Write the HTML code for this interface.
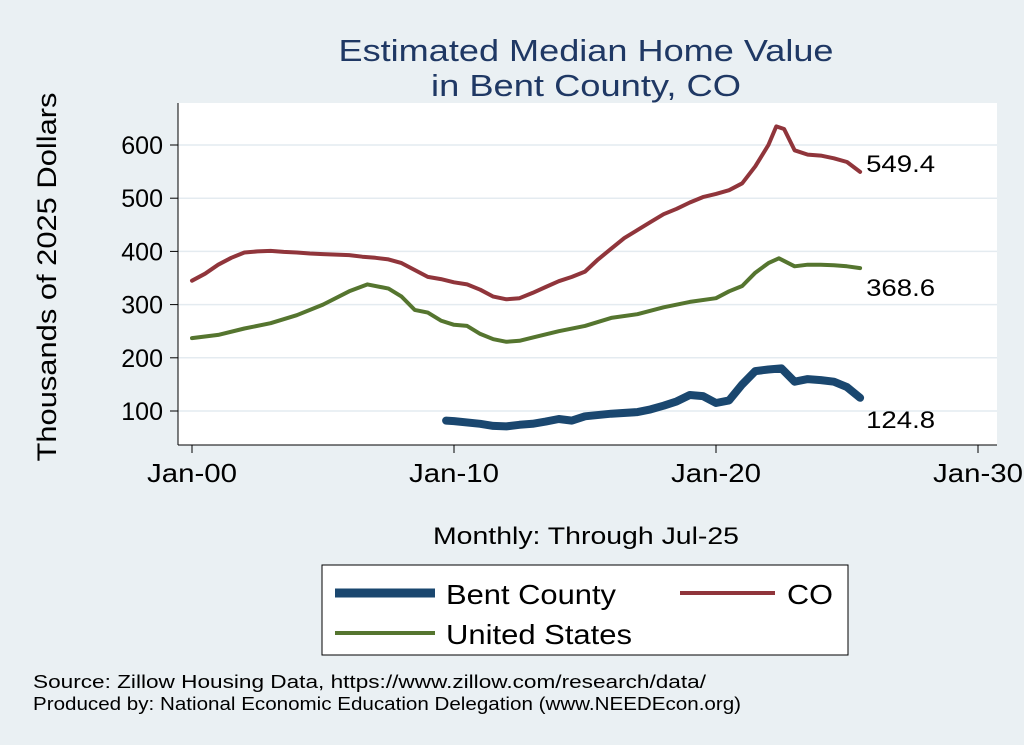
<!DOCTYPE html>
<html><head><meta charset="utf-8"><style>
body{margin:0;background:#eaf0f3;}
svg{display:block;font-family:"Liberation Sans",sans-serif;}
</style></head><body>
<svg id="c" width="1024" height="745">
<rect width="1024" height="745" fill="#eaf0f3"/>
<text x="586" y="61" font-size="31" fill="#1f3864" text-anchor="middle" textLength="495" lengthAdjust="spacingAndGlyphs">Estimated Median Home Value</text>
<text x="586" y="96" font-size="31" fill="#1f3864" text-anchor="middle" textLength="310" lengthAdjust="spacingAndGlyphs">in Bent County, CO</text>
<rect x="178" y="103" width="819" height="342" fill="#fff"/>
<g id="grid"></g><g id="axes"></g><g id="series"></g>
<text transform="translate(56,277) rotate(-90)" font-size="27" text-anchor="middle" textLength="369" lengthAdjust="spacingAndGlyphs">Thousands of 2025 Dollars</text>
<text x="586" y="544" font-size="24" text-anchor="middle" textLength="306" lengthAdjust="spacingAndGlyphs">Monthly: Through Jul-25</text>
<g>
<rect x="322" y="565" width="526" height="90" fill="#fff" stroke="#000" stroke-width="1"/>
<line x1="335" y1="593" x2="435" y2="593" stroke="#1a476f" stroke-width="9"/>
<text x="446" y="604" font-size="28" textLength="170" lengthAdjust="spacingAndGlyphs">Bent County</text>
<line x1="680" y1="593" x2="775" y2="593" stroke="#90353b" stroke-width="4"/>
<text x="787" y="604" font-size="28" textLength="46" lengthAdjust="spacingAndGlyphs">CO</text>
<line x1="335" y1="633" x2="435" y2="633" stroke="#55752f" stroke-width="4"/>
<text x="446" y="644" font-size="28" textLength="186" lengthAdjust="spacingAndGlyphs">United States</text>
</g>
<text x="33" y="688" font-size="18" textLength="673" lengthAdjust="spacingAndGlyphs">Source: Zillow Housing Data, https://www.zillow.com/research/data/</text>
<text x="33" y="710" font-size="18" textLength="708" lengthAdjust="spacingAndGlyphs">Produced by: National Economic Education Delegation (www.NEEDEcon.org)</text>
</svg>
<script>
const yTicks=[100,200,300,400,500,600];
const xTickYears=[2000,2010,2020,2030];
const xTickLabels=["Jan-00","Jan-10","Jan-20","Jan-30"];
const coYears=[2000,2000.5,2001,2001.5,2002,2002.5,2003,2003.5,2004,2004.5,2005,2005.5,2006,2006.5,2007,2007.5,2008,2008.5,2009,2009.5,2010,2010.5,2011,2011.5,2012,2012.5,2013,2013.5,2014,2014.5,2015,2015.5,2016,2016.5,2017,2017.5,2018,2018.5,2019,2019.5,2020,2020.5,2021,2021.5,2022,2022.3,2022.6,2023,2023.5,2024,2024.5,2025,2025.5];
const coValues=[345,358,375,388,398,400,401,399,398,396,395,394,393,390,388,385,378,365,352,348,342,338,328,315,310,312,322,333,344,352,362,385,405,425,440,455,470,480,492,502,508,515,528,560,600,635,630,590,582,580,575,568,549.4];
const usYears=[2000,2001,2002,2003,2004,2005,2006,2006.7,2007.5,2008,2008.5,2009,2009.5,2010,2010.5,2011,2011.5,2012,2012.5,2013,2014,2015,2016,2017,2018,2019,2020,2020.5,2021,2021.5,2022,2022.4,2023,2023.5,2024,2024.5,2025,2025.5];
const usValues=[237,243,255,265,280,300,325,338,330,315,290,285,270,262,260,245,235,230,232,238,250,260,275,282,295,305,312,325,335,360,378,387,372,375,375,374,372,368.6];
const bentYears=[2009.7,2010,2011,2011.5,2012,2012.5,2013,2013.5,2014,2014.5,2015,2016,2017,2017.5,2018,2018.5,2019,2019.5,2020,2020.5,2021,2021.5,2022,2022.5,2023,2023.5,2024,2024.5,2025,2025.5];
const bentValues=[82,81,76,72,71,74,76,80,85,82,90,95,98,103,110,118,130,128,115,120,150,175,178,180,155,160,158,155,145,124.8];
const NS="http://www.w3.org/2000/svg";
const X=yr=>192+(yr-2000)*26.2;
const Y=v=>411-(v-100)*0.532;
function mk(tag,attrs,parent,txt){const e=document.createElementNS(NS,tag);for(const k in attrs)e.setAttribute(k,attrs[k]);if(txt!==undefined)e.textContent=txt;parent.appendChild(e);return e;}
const grid=document.getElementById('grid'),axes=document.getElementById('axes'),ser=document.getElementById('series');
yTicks.forEach(t=>{
 const g=mk('line',{x1:178,x2:997,y1:Y(t),y2:Y(t),stroke:'#e4ebf0','stroke-width':1.5},grid);
 
 
 const tk=mk('line',{x1:170,x2:178,y1:Y(t),y2:Y(t),stroke:'#000'},axes);
 
 
 const l=mk('text',{x:163,y:Y(t)+9,'font-size':25,'text-anchor':'end'},axes,String(t));
 
 
});
mk('line',{x1:178,x2:178,y1:103,y2:445,stroke:'#000'},axes);
mk('line',{x1:178,x2:997,y1:445,y2:445,stroke:'#000'},axes);
xTickYears.forEach((yr,i)=>{
 const tk=mk('line',{x1:X(yr),x2:X(yr),y1:445,y2:453,stroke:'#000'},axes);
 
 
 const l=mk('text',{x:X(yr),y:482,'font-size':26,'text-anchor':'middle',textLength:90,lengthAdjust:'spacingAndGlyphs'},axes,xTickLabels[i]);
 
 
});
const offs={'co-line':-8,'us-line':20,'bent-county-line':22};
function line(xs,vs,color,w,name){
 const d=xs.map((x,i)=>(i?'L':'M')+X(x).toFixed(1)+','+Y(vs[i]).toFixed(1)).join('');
 const p=mk('path',{d:d,fill:'none',stroke:color,'stroke-width':w,'stroke-linejoin':'round','stroke-linecap':'round'},ser);
 
 
 const last=vs[vs.length-1];
 const lb=mk('text',{x:X(xs[xs.length-1])+6,y:Y(last)+8+offs[name],'font-size':24,textLength:69,lengthAdjust:'spacingAndGlyphs'},ser,last.toFixed(1));
 
 
}
line(usYears,usValues,'#55752f',4,'us-line');
line(coYears,coValues,'#90353b',4,'co-line');
line(bentYears,bentValues,'#1a476f',8,'bent-county-line');
</script>
</body></html>
